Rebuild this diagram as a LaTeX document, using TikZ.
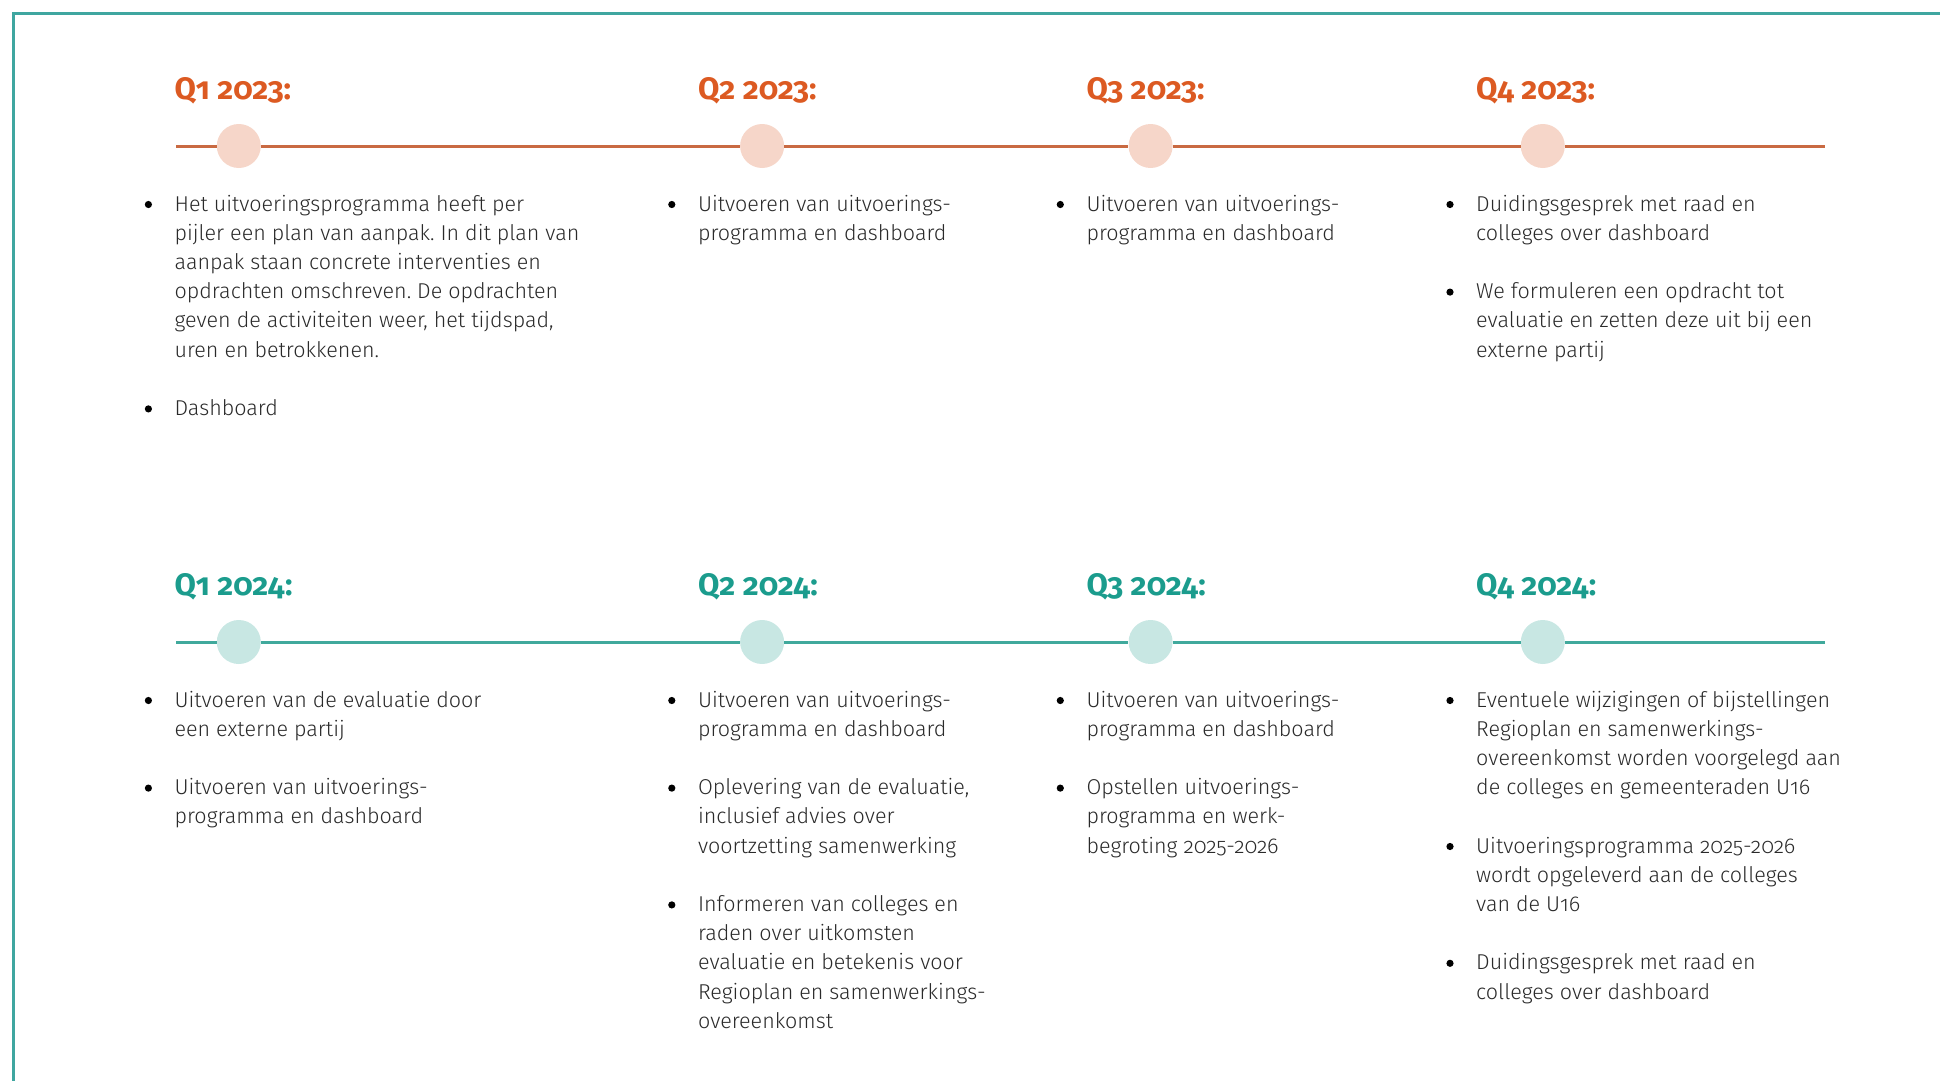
\documentclass[tikz,border=0pt]{standalone}
\usepackage{fontspec}
\setmainfont{Fira Sans Light}[Numbers=OldStyle]
\newfontfamily\titlefont{Fira Sans}[Numbers=OldStyle]
\frenchspacing
\definecolor{frameC}{HTML}{3FA6A0}
\definecolor{oTitle}{HTML}{DC5A22}
\definecolor{oLine}{HTML}{C96A42}
\definecolor{oDot}{HTML}{F6D6C9}
\definecolor{tTitle}{HTML}{1B9C8D}
\definecolor{tLine}{HTML}{40A99C}
\definecolor{tDot}{HTML}{C8E7E3}
\definecolor{bodyC}{HTML}{2A2A2A}
\newcommand\qitem[4]{%
  \node[item] (#1) at (#2,#3) {\begin{tabular}[t]{@{}l@{}}#4\end{tabular}};
  \fill[black] ([xshift=-26pt,yshift=6.5pt]#1.base west) circle (3.6pt);
}
\begin{document}
\begin{tikzpicture}[x=1pt,y=-1pt,
  title/.style={font=\titlefont\bfseries\fontsize{31}{35}\selectfont, anchor=base west, inner sep=0pt},
  item/.style={font=\frenchspacing\fontsize{21.5}{29.2}\selectfont, anchor=base west, inner sep=0pt, text=bodyC},
  odot/.style={circle, fill=oDot, minimum size=44pt, inner sep=0pt},
  tdot/.style={circle, fill=tDot, minimum size=44pt, inner sep=0pt},
  oline/.style={draw=oLine, line width=3pt},
  tline/.style={draw=tLine, line width=3pt},
  frame/.style={draw=frameC, line width=3pt}]
\useasboundingbox (0,0) rectangle (1940,1081);
% frame
\coordinate (fb) at (13.5,1081);
\coordinate (fc) at (13.5,13.5);
\coordinate (fr) at (1940,13.5);
\draw[frame] (fb) -- (fc) -- (fr);
% ---- 2023 ----
\node[title, text=oTitle] (h1) at (174.4,99.5) {Q1 2023:};
\node[title, text=oTitle] (h2) at (697.8,99.5) {Q2 2023:};
\node[title, text=oTitle] (h3) at (1086.3,99.5) {Q3 2023:};
\node[title, text=oTitle] (h4) at (1476,99.5) {Q4 2023:};
\coordinate (os) at (176,146);
\coordinate (oe) at (1825,146);
\node[odot] (c1) at (238.8,146) {};
\node[odot] (c2) at (762.1,146) {};
\node[odot] (c3) at (1150.6,146) {};
\node[odot] (c4) at (1542.8,146) {};
\draw[oline] (os) -- (c1) -- (c2) -- (c3) -- (c4) -- (oe);
\qitem{a1}{174.4}{211}{Het uitvoeringsprogramma heeft per\\pijler een plan van aanpak. In dit plan van\\aanpak staan concrete interventies en\\opdrachten omschreven. De opdrachten\\geven de activiteiten weer, het tijdspad,\\uren en betrokkenen.}
\qitem{a2}{174.4}{415.4}{Dashboard}
\qitem{b1}{697.8}{211}{Uitvoeren van uitvoerings-\\programma en dashboard}
\qitem{c1t}{1086.3}{211}{Uitvoeren van uitvoerings-\\programma en dashboard}
\qitem{d1}{1476}{211}{Duidingsgesprek met raad en\\colleges over dashboard}
\qitem{d2}{1476}{298.6}{We formuleren een opdracht tot\\evaluatie en zetten deze uit bij een\\externe partij}
% ---- 2024 ----
\node[title, text=tTitle] (k1) at (174.4,595.5) {Q1 2024:};
\node[title, text=tTitle] (k2) at (697.8,595.5) {Q2 2024:};
\node[title, text=tTitle] (k3) at (1086.3,595.5) {Q3 2024:};
\node[title, text=tTitle] (k4) at (1476,595.5) {Q4 2024:};
\coordinate (ts) at (176,642);
\coordinate (te) at (1825,642);
\node[tdot] (e1) at (238.8,642) {};
\node[tdot] (e2) at (762.1,642) {};
\node[tdot] (e3) at (1150.6,642) {};
\node[tdot] (e4) at (1542.8,642) {};
\draw[tline] (ts) -- (e1) -- (e2) -- (e3) -- (e4) -- (te);
\qitem{p1}{174.4}{707}{Uitvoeren van de evaluatie door\\een externe partij}
\qitem{p2}{174.4}{794.6}{Uitvoeren van uitvoerings-\\programma en dashboard}
\qitem{q1}{697.8}{707}{Uitvoeren van uitvoerings-\\programma en dashboard}
\qitem{q2}{697.8}{794.6}{Oplevering van de evaluatie,\\inclusief advies over\\voortzetting samenwerking}
\qitem{q3}{697.8}{911.4}{Informeren van colleges en\\raden over uitkomsten\\evaluatie en betekenis voor\\Regioplan en samenwerkings-\\overeenkomst}
\qitem{r1}{1086.3}{707}{Uitvoeren van uitvoerings-\\programma en dashboard}
\qitem{r2}{1086.3}{794.6}{Opstellen uitvoerings-\\programma en werk-\\begroting 2025-2026}
\qitem{s1}{1476}{707}{Eventuele wijzigingen of bijstellingen\\Regioplan en samenwerkings-\\overeenkomst worden voorgelegd aan\\de colleges en gemeenteraden U16}
\qitem{s2}{1476}{853}{Uitvoeringsprogramma 2025-2026\\wordt opgeleverd aan de colleges\\van de U16}
\qitem{s3}{1476}{969.8}{Duidingsgesprek met raad en\\colleges over dashboard}
\end{tikzpicture}
\end{document}
